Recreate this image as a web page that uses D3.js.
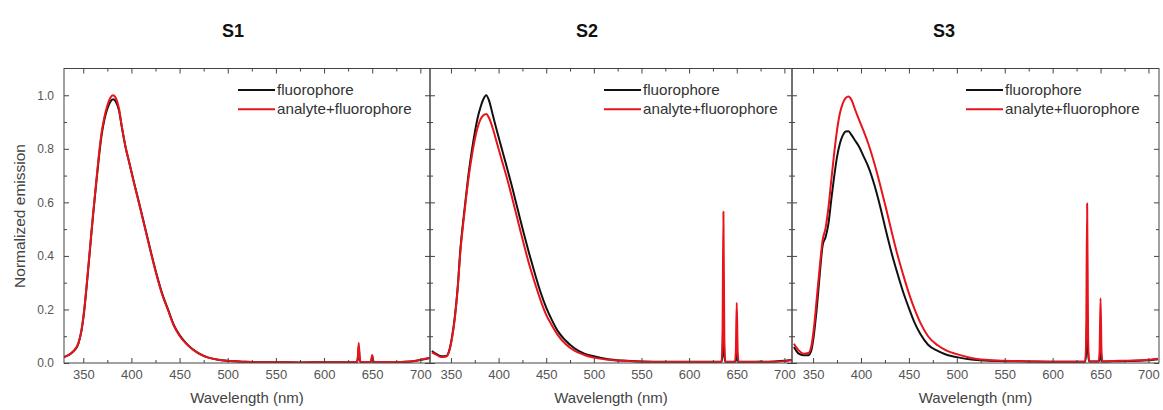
<!DOCTYPE html>
<html><head><meta charset="utf-8">
<script src="https://cdn.jsdelivr.net/npm/d3@7/dist/d3.min.js"></script>
<style>
body{margin:0;background:#fff;}
text{font-family:"Liberation Sans",Arial,Helvetica,sans-serif;}
</style>
</head><body>
<svg id="chart" width="1163" height="410"></svg>
<script>
// ---------- DATA ----------
const wavelength = [
  330,335,340,345,348, 351,354,357,360,363, 366,369,372,375,378, 381,384,387,390,394,
  398,403,408,414,420, 426,432,438,444,450, 456,462,470,480,490, 500,515,530,550,575,
  600,620,634,635,636, 637,638,648,649,650, 651,652,670,690,700, 705,710];

const s1Fluorophore = [
  .022,.030,.044,.073,.118, .195,.305,.425,.545,.655, .760,.850,.910,.950,.975, .985,.975,.945,.882,.805,
  .745,.670,.598,.508,.418, .333,.258,.200,.142,.104, .077,.056,.036,.020,.012, .008,.005,.003,.003,.002,
  .003,.003,.004,.015,.060, .015,.004,.004,.008,.025, .008,.004,.004,.006,.011, .015,.019];
const s1Analyte = [
  .022,.030,.045,.075,.120, .200,.310,.430,.550,.660, .770,.860,.920,.962,.990, 1.00,.988,.952,.884,.805,
  .744,.667,.595,.505,.415, .330,.255,.198,.140,.102, .075,.055,.035,.020,.012, .008,.005,.003,.003,.002,
  .003,.003,.004,.020,.075, .020,.004,.004,.010,.030, .010,.004,.004,.006,.012, .016,.020];

const s2Fluorophore = [
  .045,.033,.025,.026,.045, .095,.170,.280,.430,.535, .630,.720,.795,.860,.915, .955,.985,1.00,.980,.925,
  .870,.805,.740,.660,.575, .490,.410,.335,.265,.207, .160,.120,.085,.054,.035, .025,.014,.009,.006,.005,
  .005,.005,.005,.030,.170, .030,.005,.005,.010,.050, .010,.005,.005,.006,.008, .010,.012];
const s2Analyte = [
  .040,.030,.022,.024,.042, .090,.165,.275,.420,.525, .620,.705,.775,.835,.880, .910,.925,.930,.915,.875,
  .825,.762,.700,.620,.535, .450,.370,.300,.235,.180, .140,.105,.072,.045,.030, .020,.012,.008,.005,.004,
  .004,.004,.004,.080,.565, .080,.004,.004,.040,.225, .040,.004,.004,.005,.007, .010,.012];

const s3Fluorophore = [
  .060,.035,.029,.029,.045, .110,.210,.334,.440,.470, .520,.610,.696,.770,.820, .850,.865,.866,.852,.830,
  .808,.770,.730,.665,.585, .495,.410,.335,.265,.205, .150,.108,.068,.045,.030, .022,.013,.009,.007,.006,
  .005,.005,.005,.040,.175, .040,.006,.006,.012,.050, .012,.006,.007,.008,.010, .012,.014];
const s3Analyte = [
  .072,.047,.035,.037,.060, .135,.247,.360,.460,.503, .580,.683,.783,.870,.933, .970,.990,.995,.983,.945,
  .908,.864,.815,.745,.665, .580,.490,.405,.330,.260, .200,.150,.100,.066,.045, .033,.019,.012,.008,.006,
  .005,.005,.005,.100,.596, .100,.006,.006,.045,.242, .045,.006,.008,.010,.012, .014,.016];

const panelTitles = ["S1", "S2", "S3"];
const seriesNames = ["fluorophore", "analyte+fluorophore"];
const xMajorTicks = [350, 400, 450, 500, 550, 600, 650, 700];
const xMinorTicks = [375, 425, 475, 525, 575, 625, 675];
const yMajorTicks = [0, 0.2, 0.4, 0.6, 0.8, 1.0];
const yMinorTicks = [0.1, 0.3, 0.5, 0.7, 0.9];
const xTitle = "Wavelength (nm)";
const yTitle = "Normalized emission";

// ---------- LAYOUT ----------
const colors = ["#111111", "#e8141c"];
const plotTop = 68.5, plotBottom = 363;
const panels = [
  {fl: s1Fluorophore, an: s1Analyte, left: 64,  right: 430,  domain: [330, 710], titleX: 233},
  {fl: s2Fluorophore, an: s2Analyte, left: 430, right: 792,  domain: [328, 708], titleX: 587},
  {fl: s3Fluorophore, an: s3Analyte, left: 792, right: 1159, domain: [328, 711], titleX: 944}
];

const svg = d3.select("#chart");
const y = d3.scaleLinear().domain([0, 1.1]).range([plotBottom, plotTop]);

panels.forEach((p, i) => {
  const x = d3.scaleLinear().domain(p.domain).range([p.left, p.right]);
  const g = svg.append("g");

  g.append("clipPath").attr("id", "clip" + i)
    .append("rect").attr("x", p.left).attr("y", plotTop).attr("width", p.right - p.left).attr("height", plotBottom - plotTop);

  const line = d3.line().x(d => x(d[0])).y(d => y(d[1])).curve(d3.curveMonotoneX);
  const seriesData = [p.fl, p.an];
  seriesData.forEach((vals, k) => {
    g.append("path")
      .datum(wavelength.map((w, j) => [w, vals[j]]))
      .attr("clip-path", `url(#clip${i})`)
      .attr("fill", "none")
      .attr("stroke", colors[k])
      .attr("stroke-width", 2)
      .attr("stroke-linejoin", "round")
      .attr("d", line);
  });

  const styleAxis = sel => {
    sel.select(".domain").remove();
    sel.selectAll(".tick line").attr("stroke", "#444");
    sel.selectAll(".tick text").attr("fill", "#555").style("font-size", "13px")
      .style("font-family", '"Liberation Sans",Arial,sans-serif');
  };
  g.append("g").attr("transform", `translate(0,${plotBottom})`)
    .call(d3.axisBottom(x).tickValues(xMajorTicks).tickSize(-5).tickPadding(7).tickFormat(d3.format("d")))
    .call(styleAxis);
  g.append("g").attr("transform", `translate(0,${plotBottom})`)
    .call(d3.axisBottom(x).tickValues(xMinorTicks).tickSize(-3).tickFormat(""))
    .call(styleAxis);
  g.append("g").attr("transform", `translate(0,${plotTop})`)
    .call(d3.axisTop(x).tickValues(xMajorTicks).tickSize(-5).tickFormat(""))
    .call(styleAxis);
  g.append("g").attr("transform", `translate(0,${plotTop})`)
    .call(d3.axisTop(x).tickValues(xMinorTicks).tickSize(-3).tickFormat(""))
    .call(styleAxis);

  const yl = g.append("g").attr("transform", `translate(${p.left},0)`)
    .call(d3.axisLeft(y).tickValues(yMajorTicks).tickSize(-5).tickPadding(10)
      .tickFormat(i === 0 ? d3.format(".1f") : ""))
    .call(styleAxis);
  yl.selectAll(".tick text").style("font-size", "12px");
  g.append("g").attr("transform", `translate(${p.left},0)`)
    .call(d3.axisLeft(y).tickValues(yMinorTicks).tickSize(-3).tickFormat(""))
    .call(styleAxis);
  g.append("g").attr("transform", `translate(${p.right},0)`)
    .call(d3.axisRight(y).tickValues(yMajorTicks).tickSize(-5).tickFormat(""))
    .call(styleAxis);
  g.append("g").attr("transform", `translate(${p.right},0)`)
    .call(d3.axisRight(y).tickValues(yMinorTicks).tickSize(-3).tickFormat(""))
    .call(styleAxis);

  g.append("rect").attr("x", p.left).attr("y", plotTop)
    .attr("width", p.right - p.left).attr("height", plotBottom - plotTop)
    .attr("fill", "none").attr("stroke", "#444").attr("stroke-width", 1);

  seriesNames.forEach((name, k) => {
    const ly = 90 + k * 19.3;
    g.append("line").attr("x1", p.left + 174).attr("x2", p.left + 211)
      .attr("y1", ly).attr("y2", ly).attr("stroke", colors[k]).attr("stroke-width", 2);
    g.append("text").attr("transform", `translate(${p.left + 213},${ly}) scale(1.085,1)`)
      .attr("dy", "0.36em").attr("fill", "#333").style("font-size", "14px").text(name);
  });

  g.append("text").attr("x", (p.left + p.right) / 2).attr("y", 403)
    .attr("text-anchor", "middle").attr("fill", "#444").style("font-size", "15px").text(xTitle);

  svg.append("text").attr("x", p.titleX).attr("y", 37).attr("text-anchor", "middle")
    .attr("fill", "#111").style("font-size", "18px").style("font-weight", "bold").text(panelTitles[i]);
});

svg.append("text").attr("transform", "translate(25,216) rotate(-90)")
  .attr("text-anchor", "middle").attr("fill", "#444").style("font-size", "15.5px").text(yTitle);
</script>
</body></html>
